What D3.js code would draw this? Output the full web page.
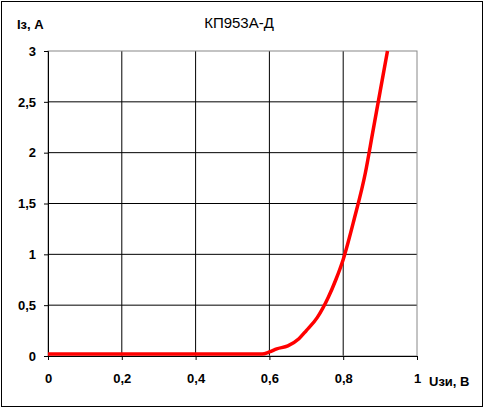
<!DOCTYPE html>
<html><head><meta charset="utf-8">
<script src="https://cdn.jsdelivr.net/npm/d3@7"></script>
<style>body{margin:0;background:#fff}svg{display:block}text{font-family:"Liberation Sans",Arial,sans-serif;font-weight:bold;font-size:13px}</style>
</head><body><svg id="c" width="484" height="409"></svg>
<script>
// gate voltage, V / drain current, A
var uValues = [0, 0.2, 0.4, 0.56, 0.58, 0.6, 0.62, 0.65, 0.68, 0.7, 0.73, 0.76, 0.78, 0.8, 0.83, 0.86, 0.88, 0.9, 0.92];
var iValues = [0.02, 0.02, 0.02, 0.02, 0.02, 0.04, 0.07, 0.1, 0.17, 0.25, 0.38, 0.58, 0.75, 0.95, 1.35, 1.8, 2.2, 2.6, 3.0];
var xTicks = [0, 0.2, 0.4, 0.6, 0.8, 1];
var yTicks = [0, 0.5, 1, 1.5, 2, 2.5, 3];

var svg = d3.select("#c");
var x = d3.scaleLinear().domain([0, 1]).range([48, 417]);
var y = d3.scaleLinear().domain([0, 3]).range([356, 51]);
var fmt = function(d) { return String(d).replace(".", ","); };

svg.append("rect").attr("x", 1.5).attr("y", 1.5).attr("width", 481).attr("height", 405)
  .attr("fill", "none").attr("stroke", "#000");

// grid
svg.selectAll(".vg").data(xTicks.slice(1, -1)).enter().append("line")
  .attr("x1", x).attr("x2", x).attr("y1", 51).attr("y2", 356).attr("stroke", "#000");
svg.selectAll(".hg").data(yTicks.slice(1, -1)).enter().append("line")
  .attr("x1", 48).attr("x2", 417).attr("y1", y).attr("y2", y).attr("stroke", "#000");
svg.append("rect").attr("x", 48).attr("y", 51).attr("width", 369).attr("height", 305)
  .attr("fill", "none").attr("stroke", "#888");

// axes
var xa = svg.append("g").attr("transform", "translate(0,356)")
  .call(d3.axisBottom(x).tickValues(xTicks).tickFormat(fmt).tickSize(4).tickPadding(14));
var ya = svg.append("g").attr("transform", "translate(48,0)")
  .call(d3.axisLeft(y).tickValues(yTicks).tickFormat(fmt).tickSize(4).tickPadding(8));
[xa, ya].forEach(function(a) {
  a.select(".domain").attr("stroke", "#000");
  a.selectAll(".tick line").attr("stroke", "#000");
  a.selectAll("text").attr("fill", "#000").style("font-size", "13px").style("font-family", "Liberation Sans, Arial, sans-serif");
});

// curve
svg.append("path").datum(d3.zip(uValues, iValues))
  .attr("fill", "none").attr("stroke", "#ff0000").attr("stroke-width", 3.5)
  .attr("d", d3.line().x(function(d) { return x(d[0]); }).y(function(d) { return y(d[1]); }).curve(d3.curveMonotoneX));

svg.append("text").attr("x", 239).attr("y", 28).attr("text-anchor", "middle").style("font-weight", "normal").style("font-size", "15px").text("КП953А-Д");
svg.append("text").attr("x", 17).attr("y", 29).text("Iз, А");
svg.append("text").attr("x", 429).attr("y", 386).text("Uзи, В");
</script></body></html>
